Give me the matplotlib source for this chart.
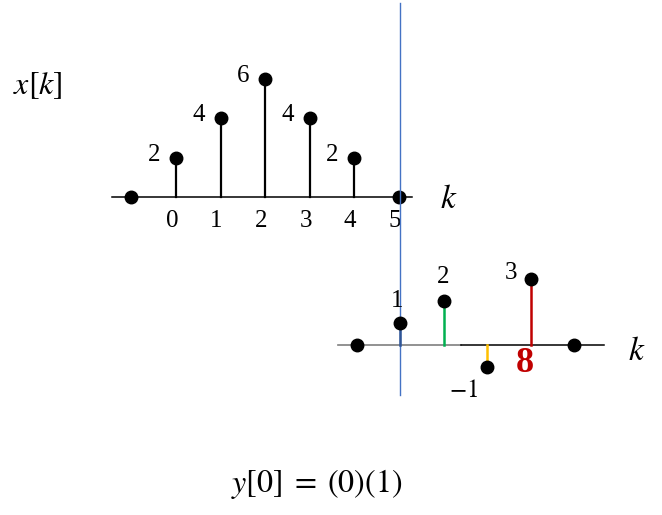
import matplotlib.pyplot as plt

plt.rcParams['mathtext.fontset'] = 'stix'
plt.rcParams['font.family'] = ['Liberation Serif', 'DejaVu Serif']

# top signal x[k]
k_top = [-1, 0, 1, 2, 3, 4, 5]
x_vals = [0, 2, 4, 6, 4, 2, 0]
tick_labels = ['0', '1', '2', '3', '4', '5']

# bottom (flipped) signal
k_bot = [-1, 0, 1, 2, 3, 4]
h_vals = [0, 1, 2, -1, 3, 0]
h_labels = ['', '1', '2', '$-1$', '3', '']
stem_colors = ['black', '#2F5597', '#00B050', '#FFC000', '#C00000', 'black']
bot_offsets = [(0, 0), (-2, 16), (0, 17), (-17, -17), (-14, 4), (0, 0)]

fig = plt.figure(figsize=(6.62, 5.15), dpi=100)

# pixel mapping: top px = 176 + 44.6k, py = 197 - 19.7v
ax1 = fig.add_axes([0, 0, 1, 1])
ax1.set_xlim(-176 / 44.6, 486 / 44.6)
ax1.set_ylim((197 - 515) / 19.7, 197 / 19.7)
ax1.axis('off')

ax1.plot([-1.43, 5.3], [0, 0], color='black', lw=1.1, zorder=1)
for k, v in zip(k_top, x_vals):
    if v != 0:
        ax1.plot([k, k], [0, v], color='black', lw=1.6, zorder=2)
        ax1.annotate(str(v), (k, v), xytext=(-16, 2), textcoords='offset points',
                     ha='center', va='center', fontsize=18)
ax1.plot(k_top, x_vals, 'o', color='black', ms=9, zorder=3)
for k, lab in zip(k_top[1:], tick_labels):
    ax1.annotate(lab, (k, 0), xytext=(-3, -17), textcoords='offset points',
                 ha='center', va='center', fontsize=18)
ax1.annotate('$k$', (5, 0), xytext=(36, -2), textcoords='offset points',
             ha='center', va='center', fontsize=24)
ax1.text(38 / 662, 1 - 86 / 515, '$x[k]$', transform=fig.transFigure,
         ha='center', va='center', fontsize=23)

# bottom: px = 400 + 43.5k, py = 345 - 22v
ax2 = fig.add_axes([0, 0, 1, 1])
ax2.patch.set_visible(False)
ax2.set_xlim(-400 / 43.5, 262 / 43.5)
ax2.set_ylim((345 - 515) / 22, 345 / 22)
ax2.axis('off')

ax2.plot([0, 0], [15.55, -2.27], color='#4472C4', lw=1.0, zorder=1)
ax2.plot([-1.43, 1.4], [0, 0], color='#7F7F7F', lw=1.2, zorder=1)
ax2.plot([1.4, 4.7], [0, 0], color='black', lw=1.1, zorder=1)
for k, v, c, lab, off in zip(k_bot, h_vals, stem_colors, h_labels, bot_offsets):
    if v != 0:
        ax2.plot([k, k], [0, v], color=c, lw=1.8, zorder=2)
        ax2.annotate(lab, (k, v), xytext=off, textcoords='offset points',
                     ha='center', va='center', fontsize=18)
ax2.plot(k_bot, h_vals, 'o', color='black', ms=9, zorder=3)
ax2.annotate('8', (3, 0), xytext=(-4, -13), textcoords='offset points',
             ha='center', va='center', fontsize=26, fontweight='bold', color='#C00000')
ax2.annotate('$k$', (4, 0), xytext=(45, -5), textcoords='offset points',
             ha='center', va='center', fontsize=24)

fig.text(317 / 662, 1 - 484 / 515, r'$y[0]\;=\;(0)(1)$', ha='center', va='center', fontsize=23)

fig.savefig('out.png', dpi=100)
